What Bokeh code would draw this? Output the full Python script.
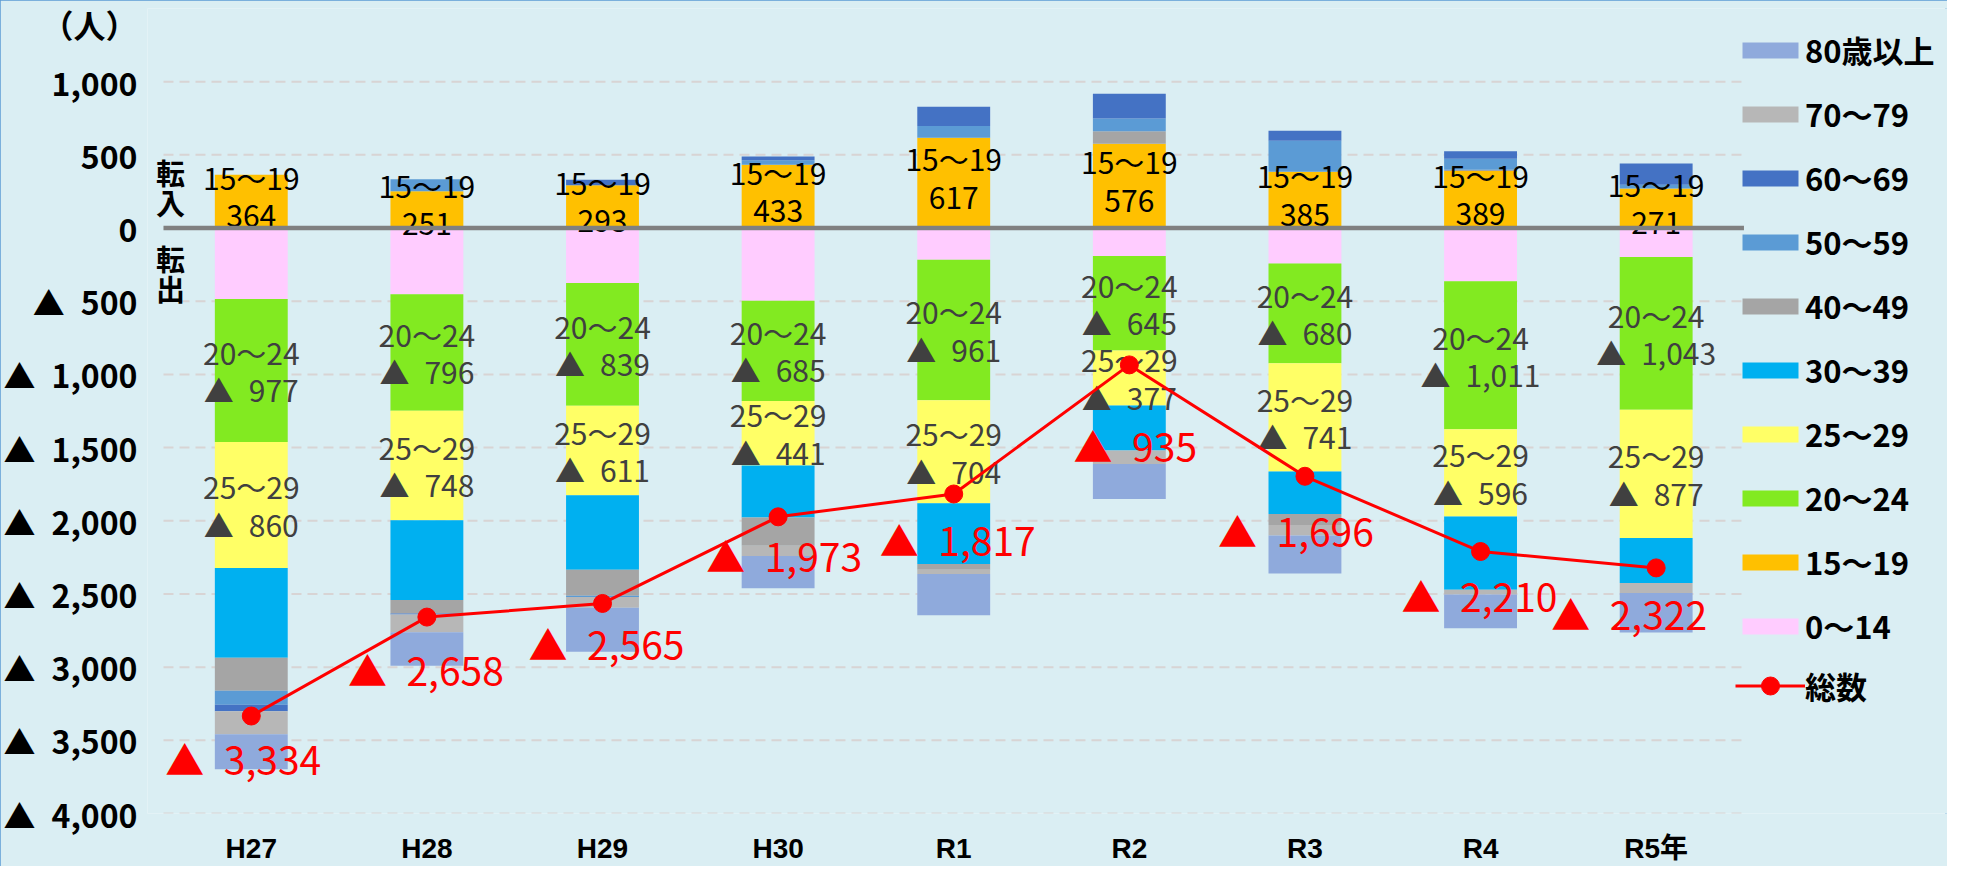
import numpy as np
from bokeh.plotting import figure
from bokeh.models import Range1d, FixedTicker, Label, Legend, LegendItem
from bokeh.core.properties import value
from bokeh.embed import file_html
from bokeh.resources import INLINE

# ---------------- data ----------------
categories = ["H27", "H28", "H29", "H30", "R1", "R2", "R3", "R4", "R5年"]
series_names = ["0～14", "15～19", "20～24", "25～29", "30～39",
                "40～49", "50～59", "60～69", "70～79", "80歳以上"]

age_0_14 = [-485, -452, -375, -496, -216, -191, -243, -364, -198]
age_15_19 = [364, 251, 293, 433, 617, 576, 385, 389, 271]
age_20_24 = [-977, -796, -839, -685, -961, -645, -680, -1011, -1043]
age_25_29 = [-860, -748, -611, -441, -704, -377, -741, -596, -877]
age_30_39 = [-614, -546, -510, -356, -415, -307, -290, -500, -307]
age_40_49 = [-226, -91, -177, -193, -38, 86, -75, 10, 0]
age_50_59 = [-95, 82, -8, 30, 80, 86, 211, 75, 25]
age_60_69 = [-45, -8, 37, 25, 132, 169, 68, 50, 145]
age_70_79 = [-157, -120, -75, -69, -30, -92, -72, -32, -68]
age_80_up = [-239, -230, -300, -221, -282, -240, -259, -231, -270]
total = [-3334, -2658, -2565, -1973, -1817, -935, -1696, -2210, -2322]

y_ticks = [1000, 500, 0, -500, -1000, -1500, -2000, -2500, -3000, -3500, -4000]
unit_label = "（人）"

series_values = [age_0_14, age_15_19, age_20_24, age_25_29, age_30_39,
                 age_40_49, age_50_59, age_60_69, age_70_79, age_80_up]

# ---------------- style ----------------
colors = ["#FFCCFF", "#FFC000", "#82EA21", "#FFFF66", "#00B0F0",
          "#A5A5A5", "#5B9BD5", "#4472C4", "#B7B7B7", "#8FAADC"]
# pixel nudges of the red total labels (as placed in the original)
total_label_dx = [-8, -1, 4, 6, 4, 6, -9, -1, -27]
total_label_dy = [42, 52, 40, 38, 45, 80, 54, 43, 45]
UNIT_LABEL_POS = 1405  # where the unit caption sits on the value axis

FONT = "'Noto Sans CJK JP', sans-serif"
XFONT = "'Liberation Sans', 'Noto Sans CJK JP', sans-serif"
BG = "#DAEEF3"


def fmt_neg(v):
    return "▲\u2002" + f"{abs(v):,}"


xs = list(range(len(categories)))
x_lo, x_hi = -0.5, len(categories) - 0.5

p = figure(width=1947, height=866,
           x_range=Range1d(-0.591, 9.659),
           y_range=Range1d(-4000, 1500),
           output_backend="svg", toolbar_location=None,
           min_border_left=145, min_border_right=0,
           min_border_top=8, min_border_bottom=52)
p.background_fill_color = BG
p.border_fill_color = BG
p.outline_line_color = None
p.grid.grid_line_color = None
p.styles = {"outline": "2px solid #5B9BD5", "outline-offset": "-2px"}

# axes
p.yaxis.ticker = FixedTicker(ticks=y_ticks + [UNIT_LABEL_POS])
overrides = {t: (f"{t:,}" if t >= 0 else fmt_neg(t)) for t in y_ticks}
overrides[UNIT_LABEL_POS] = unit_label
p.yaxis.major_label_overrides = overrides
p.xaxis.ticker = FixedTicker(ticks=xs)
p.xaxis.major_label_overrides = {i: c for i, c in zip(xs, categories)}
for ax in (p.xaxis[0], p.yaxis[0]):
    ax.axis_line_color = None
    ax.major_tick_line_color = None
    ax.minor_tick_line_color = None
    ax.major_tick_out = 0
    ax.major_tick_in = 0
    ax.minor_tick_out = 0
    ax.minor_tick_in = 0
    ax.major_label_text_font_style = "bold"
    ax.major_label_text_color = "#000000"
p.yaxis.major_label_text_font = FONT
p.yaxis.major_label_text_font_size = "32px"
p.yaxis.major_label_standoff = 10
p.xaxis.major_label_text_font = XFONT
p.xaxis.major_label_text_font_size = "28px"
p.xaxis.major_label_standoff = 19

# dashed gridlines across the category area
grid_ticks = [t for t in y_ticks if t != 0]
p.segment(x0=[x_lo] * len(grid_ticks), x1=[x_hi] * len(grid_ticks),
          y0=grid_ticks, y1=grid_ticks, line_color="#D8D4D4",
          line_width=2, line_dash="10 6")

# stacked bars (positive values stack upward, negative downward)
pos = np.zeros(len(categories))
neg = np.zeros(len(categories))
bar_renderers = {}
centers = {}
for name, vals, col in zip(series_names, series_values, colors):
    v = np.array(vals, dtype=float)
    bottom = np.where(v >= 0, pos, neg)
    top = bottom + v
    pos = np.where(v >= 0, pos + v, pos)
    neg = np.where(v < 0, neg + v, neg)
    r = p.vbar(x=xs, bottom=bottom, top=top, width=0.415,
               fill_color=col, line_color=None)
    bar_renderers[name] = r
    centers[name] = (bottom + top) / 2

# in-bar labels
lbl_15 = [f"15～19\n{v}" for v in age_15_19]
p.text(x=xs, y=centers["15～19"], text=lbl_15, text_align="center",
       text_baseline="middle", text_font=value(FONT), text_font_size="30px",
       text_color="#000000", y_offset=-6, text_line_height=0.85)
for name, vals in (("20～24", age_20_24), ("25～29", age_25_29)):
    lbl = [f"{name}\n{fmt_neg(v)}" for v in vals]
    p.text(x=xs, y=centers[name], text=lbl, text_align="center",
           text_baseline="middle", text_font=value(FONT), text_font_size="30px",
           text_color="#404040", text_line_height=0.85)

# zero line (horizontal axis line)
p.segment(x0=[x_lo], x1=[x_hi], y0=[0], y1=[0], line_color="#808080", line_width=4.5)

# total line
line_r = p.line(x=xs, y=total, line_color="#FF0000", line_width=3)
scat_r = p.scatter(x=xs, y=total, size=18, fill_color="#FF0000", line_color="#FF0000")

# total labels
p.text(x=xs, y=total, text=[fmt_neg(v) for v in total], text_align="center",
       text_baseline="middle", text_font=value(FONT), text_font_size="39px",
       text_color="#FF0000", x_offset=total_label_dx, y_offset=total_label_dy)

# 転入 / 転出 captions beside the zero line
p.add_layout(Label(x=23, y=280, x_units="screen", y_units="data", text="転\n入",
                   text_align="center", text_baseline="middle", text_font=FONT,
                   text_font_size="29px", text_font_style="bold", text_color="#000000",
                   text_line_height=0.72))
p.add_layout(Label(x=23, y=-307, x_units="screen", y_units="data", text="転\n出",
                   text_align="center", text_baseline="middle", text_font=FONT,
                   text_font_size="29px", text_font_style="bold", text_color="#000000",
                   text_line_height=0.72))

# legends
legend_style = dict(orientation="vertical", padding=0, margin=0, label_standoff=0,
                    border_line_color=None, background_fill_alpha=0,
                    label_text_font=FONT, label_text_font_size="31px",
                    label_text_font_style="bold", label_text_color="#000000")
bar_items = [LegendItem(label=n, renderers=[bar_renderers[n]]) for n in reversed(series_names)]
p.add_layout(Legend(items=bar_items, location=(1588, 165), glyph_width=70,
                    glyph_height=20, label_height=20, spacing=19, **legend_style))
p.add_layout(Legend(items=[LegendItem(label="総数", renderers=[line_r, scat_r])],
                    location=(1588, 105), glyph_width=70, glyph_height=45,
                    label_height=20, spacing=0, **legend_style))

open("out.html", "w").write(file_html(p, INLINE))
